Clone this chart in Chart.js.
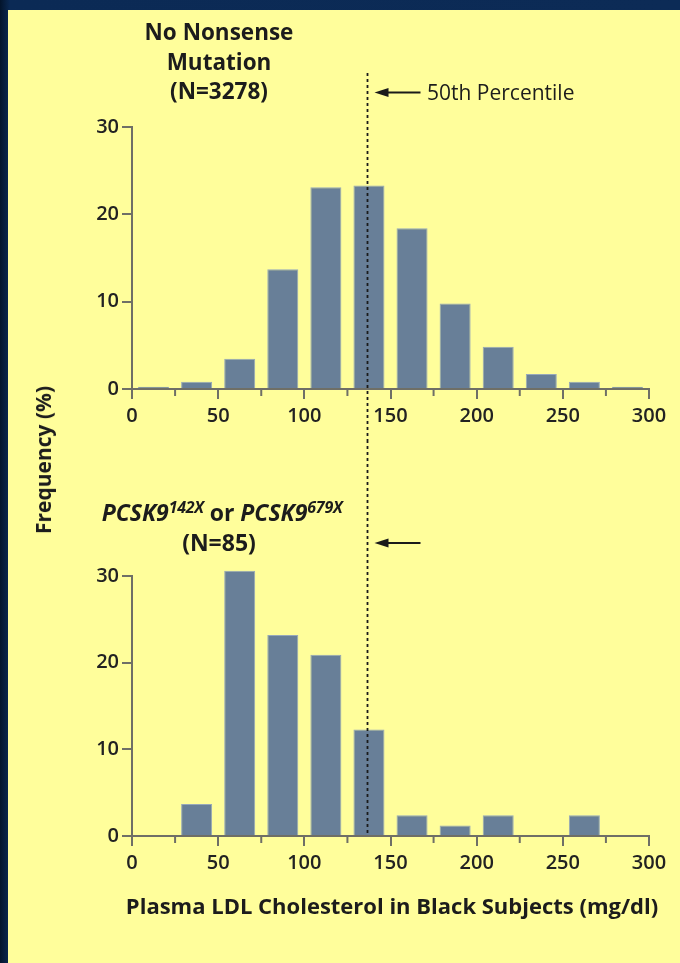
<!DOCTYPE html>
<html>
<head>
<meta charset="utf-8">
<script src="https://cdn.jsdelivr.net/npm/chart.js@4.4.1/dist/chart.umd.min.js"></script>
<style>
html,body{margin:0;padding:0;width:680px;height:963px;overflow:hidden;}
body{background:linear-gradient(90deg,#03142b 0px,#0b2a55 10px,#0c2b56 100%);position:relative;}
#panel{position:absolute;left:8px;top:10px;right:0;bottom:0;background:#FFFE9B;}
.wrap{position:absolute;left:0;width:680px;}
.t{position:absolute;font-family:'Open Sans',sans-serif;color:#1c1c1c;white-space:nowrap;}
.b{font-weight:700;}
sup{font-size:16px;vertical-align:0;position:relative;top:-8px;letter-spacing:-0.3px;}
</style>
</head>
<body>
<div id="panel"></div>
<div class="wrap" style="top:0;height:440px"><canvas id="c1"></canvas></div>
<div class="wrap" style="top:440px;height:523px"><canvas id="c2"></canvas></div>

<div class="t b" style="left:69px;top:17px;width:300px;text-align:center;font-size:22.5px;line-height:29.5px">No Nonsense<br>Mutation<br>(N=3278)</div>
<div class="t" style="left:427px;top:77px;font-size:21px;line-height:30px">50th Percentile</div>
<div class="t b" style="left:72px;top:497px;width:300px;text-align:center;font-size:23px;line-height:30px"><i>PCSK9<sup>142X</sup></i> or <i>PCSK9<sup>679X</sup></i></div>
<div class="t b" style="left:69px;top:527px;width:300px;text-align:center;font-size:23px;line-height:30px">(N=85)</div>
<div class="t b" style="left:43px;top:460px;font-size:21px;line-height:30px;transform:translate(-50%,-50%) rotate(-90deg)">Frequency (%)</div>
<div class="t b" style="left:92px;top:890px;width:600px;text-align:center;font-size:22px;line-height:30px">Plasma LDL Cholesterol in Black Subjects (mg/dl)</div>

<script>
// ---- data ----
const binCenters = [12.5, 37.5, 62.5, 87.5, 112.5, 137.5, 162.5, 187.5, 212.5, 237.5, 262.5, 287.5];
const noNonsense = [0.27, 0.84, 3.45, 13.7, 23.1, 23.3, 18.4, 9.8, 4.85, 1.72, 0.84, 0.27];
const pcsk9 = [0, 3.7, 30.6, 23.2, 20.9, 12.3, 2.4, 1.2, 2.4, 0, 2.4, 0];
const xTicks = [0, 50, 100, 150, 200, 250, 300];
const xMinorTicks = [25, 75, 125, 175, 225, 275];
const yTicks = [0, 10, 20, 30];
const median = 136.5;

const AXIS = '#6f6f66';
const BAR = 'rgb(104,127,152)';
const BAR_EDGE = 'rgb(150,168,186)';
const TEXT = '#222';

const overlay = {
  id: 'overlay',
  afterDatasetsDraw(chart, args, opts) {
    const {ctx, scales: {x, y}} = chart;
    const y0 = y.getPixelForValue(0);
    ctx.save();
    ctx.strokeStyle = AXIS;
    ctx.lineWidth = 2;
    xMinorTicks.forEach(v => {
      const px = x.getPixelForValue(v);
      ctx.beginPath(); ctx.moveTo(px, y0); ctx.lineTo(px, y0 + 7); ctx.stroke();
    });
    const mx = Math.round(x.getPixelForValue(median)) + 0.5;
    ctx.strokeStyle = '#1a1a1a';
    ctx.lineWidth = 1.8;
    ctx.setLineDash([3, 3]);
    ctx.beginPath();
    ctx.moveTo(mx, opts.lineTop);
    ctx.lineTo(mx, opts.toAxis ? y0 : chart.height);
    ctx.stroke();
    ctx.setLineDash([]);
    const ay = opts.arrowY;
    ctx.lineWidth = 2;
    ctx.beginPath(); ctx.moveTo(mx + 16, ay); ctx.lineTo(mx + 53, ay); ctx.stroke();
    ctx.fillStyle = '#1a1a1a';
    ctx.beginPath();
    ctx.moveTo(mx + 7, ay); ctx.lineTo(mx + 21, ay - 4.5); ctx.lineTo(mx + 21, ay + 4.5);
    ctx.closePath(); ctx.fill();
    ctx.restore();
  }
};

function makeChart(id, values, pad, xHeight, overlayOpts) {
  return new Chart(document.getElementById(id), {
    type: 'bar',
    data: {
      datasets: [{
        data: binCenters.map((c, i) => ({x: c, y: values[i]})),
        backgroundColor: BAR,
        borderColor: BAR_EDGE,
        borderWidth: {top: 1, left: 1, right: 1, bottom: 0},
        barPercentage: 0.72,
        categoryPercentage: 1.0,
        clip: false
      }]
    },
    options: {
      responsive: true,
      maintainAspectRatio: false,
      animation: false,
      events: [],
      layout: {padding: pad},
      plugins: {legend: {display: false}, tooltip: {enabled: false}, overlay: overlayOpts},
      scales: {
        x: {
          type: 'linear', min: 0, max: 300, offset: false,
          afterBuildTicks: s => { s.ticks = xTicks.map(v => ({value: v})); },
          afterFit: s => { s.height = xHeight; },
          grid: {display: true, offset: false, drawOnChartArea: false, drawTicks: true, tickLength: 10, color: AXIS, lineWidth: 2},
          border: {display: true, color: AXIS, width: 2},
          ticks: {color: TEXT, padding: 5, maxRotation: 0, autoSkip: false, font: {family: 'Open Sans', size: 20, weight: 600}}
        },
        y: {
          min: 0, max: 30,
          afterBuildTicks: s => { s.ticks = yTicks.map(v => ({value: v})); },
          afterFit: s => { s.width = 132; },
          grid: {display: true, drawOnChartArea: false, drawTicks: true, tickLength: 10, color: AXIS, lineWidth: 2},
          border: {display: true, color: AXIS, width: 2},
          ticks: {color: TEXT, padding: 3, font: {family: 'Open Sans', size: 20, weight: 600}}
        }
      }
    },
    plugins: [overlay]
  });
}

makeChart('c1', noNonsense, {left: 0, right: 31, top: 127, bottom: 0}, 51, {lineTop: 73, toAxis: false, arrowY: 92.5});
makeChart('c2', pcsk9, {left: 0, right: 31, top: 136, bottom: 0}, 127, {lineTop: 0, toAxis: true, arrowY: 103});
</script>
</body>
</html>
